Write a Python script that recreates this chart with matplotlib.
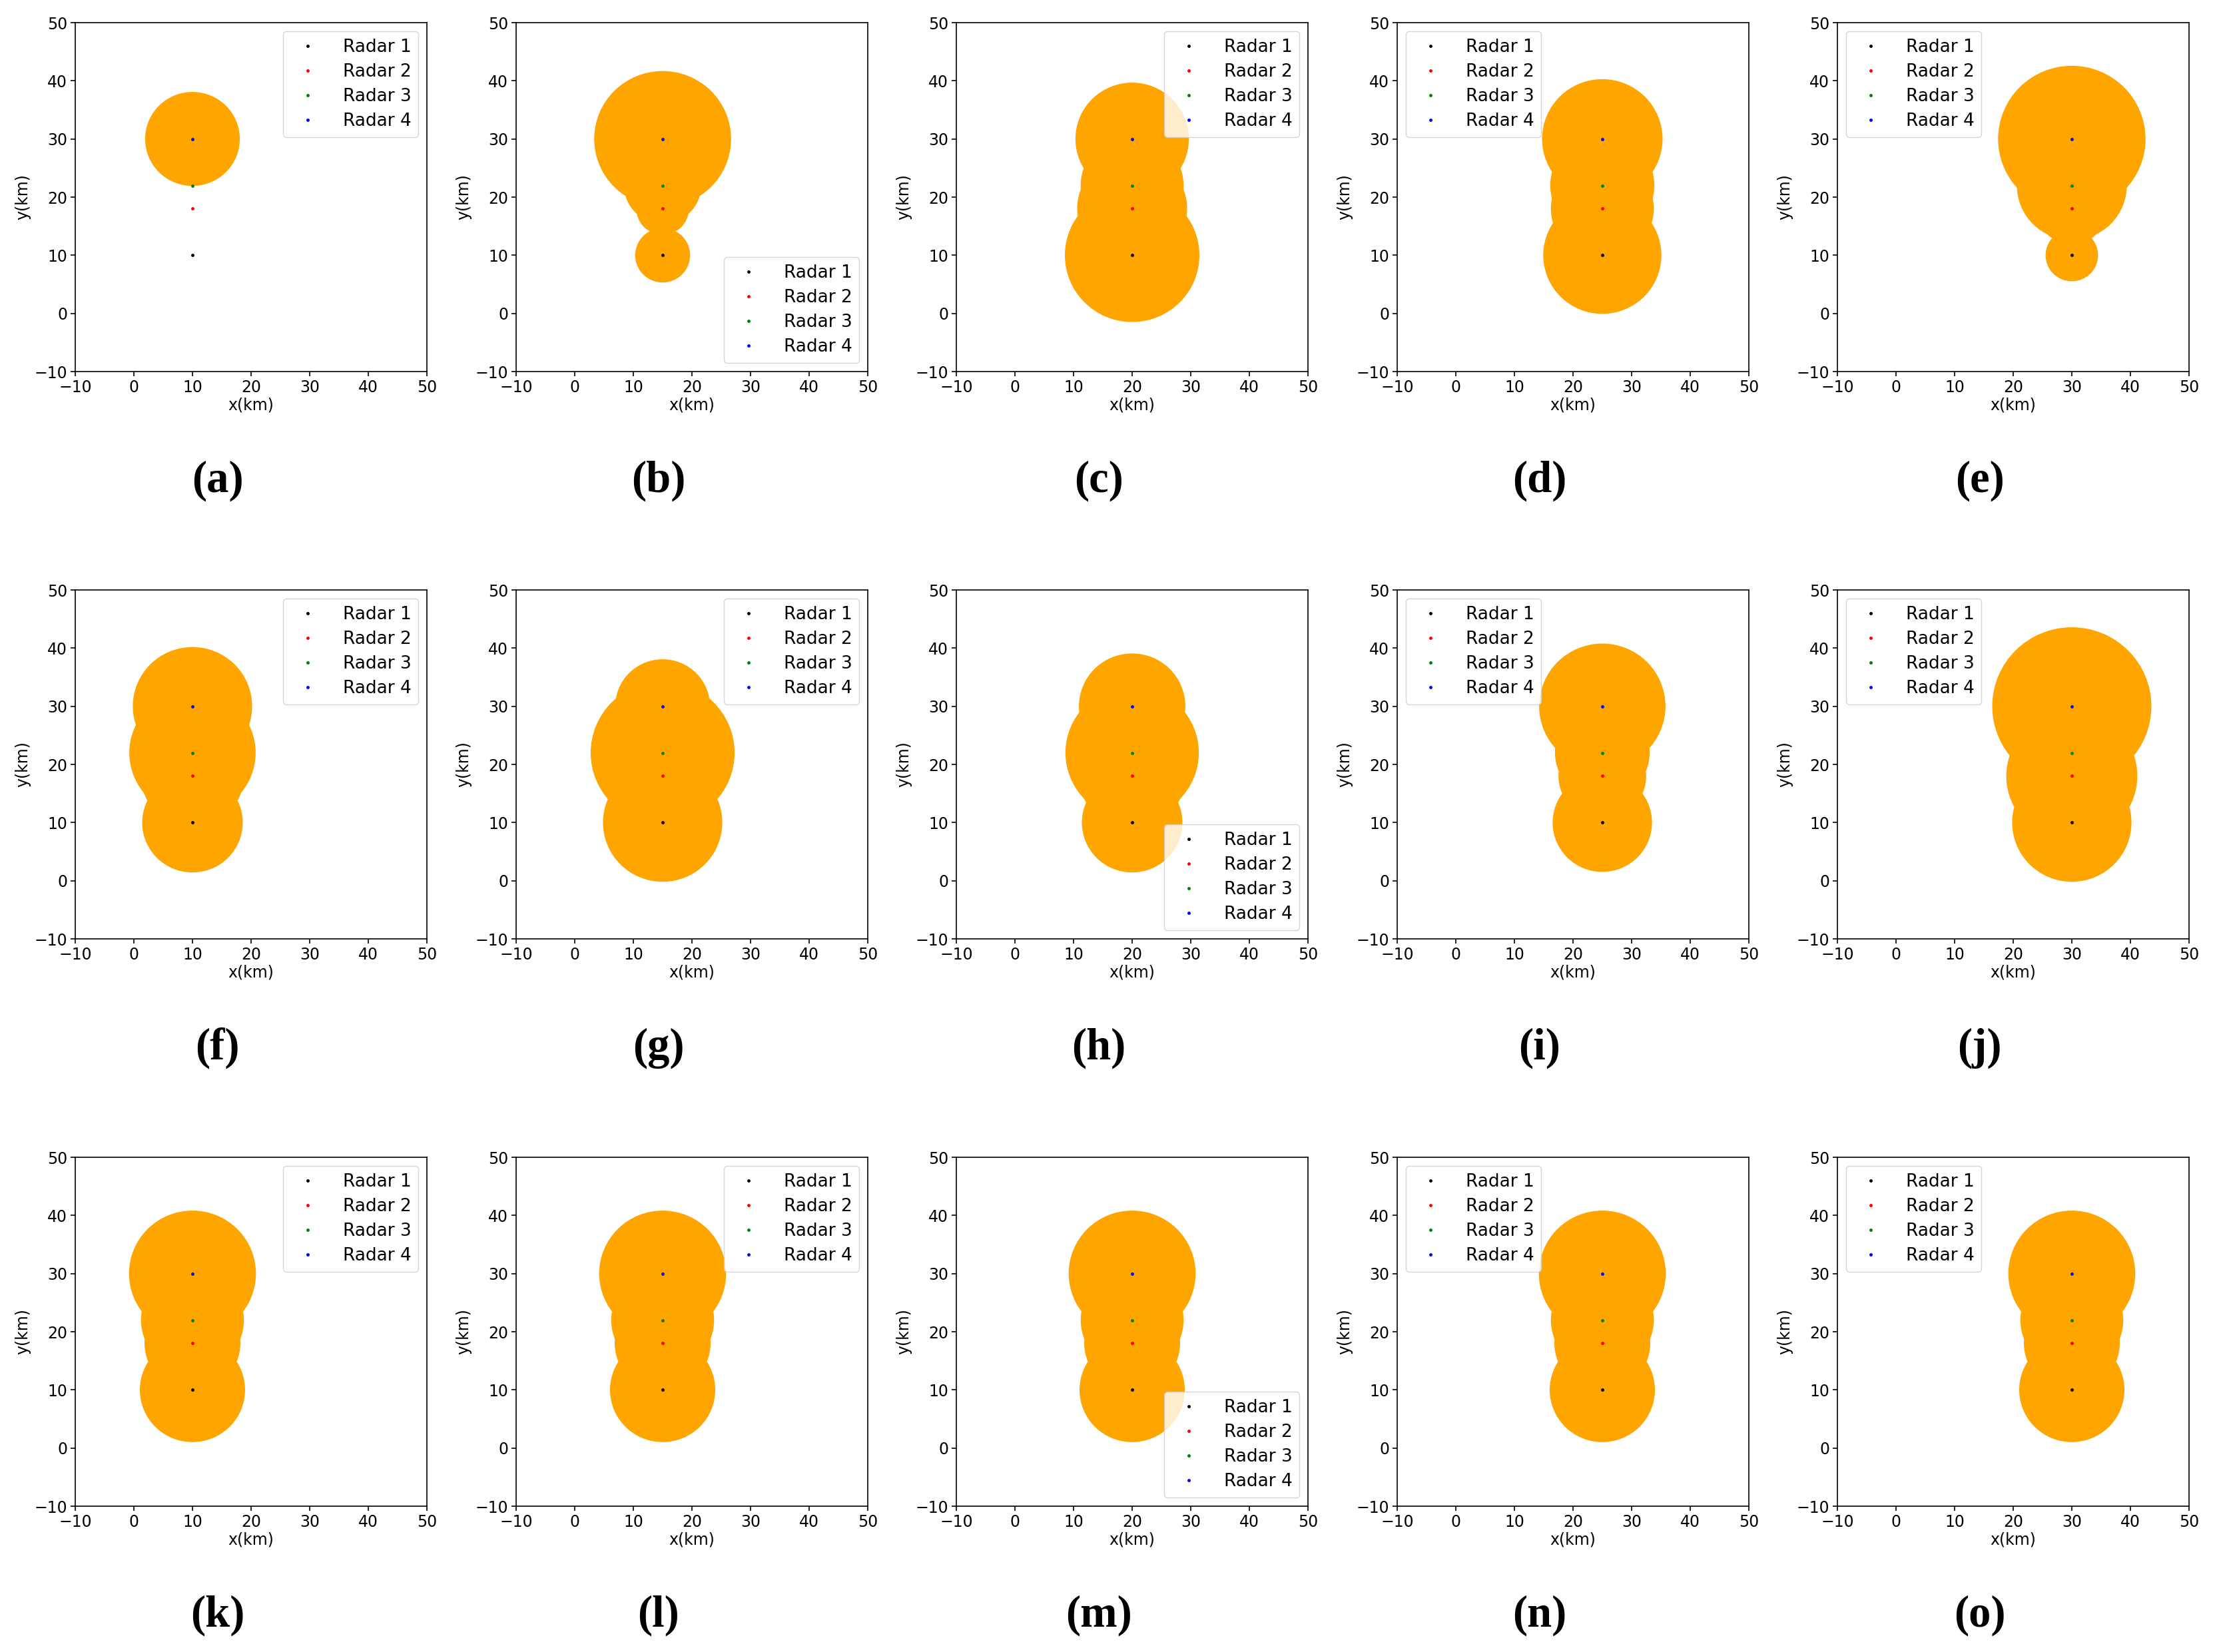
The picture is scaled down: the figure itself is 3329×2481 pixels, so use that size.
import matplotlib
matplotlib.use('Agg')

import matplotlib.pyplot as plt

# radar positions: x depends on the column, y is the same for the four radars
COL_X = [10, 15, 20, 25, 30]
RADAR_Y = [10, 18, 22, 30]
RADAR_NAMES = ["Radar 1", "Radar 2", "Radar 3", "Radar 4"]
RADAR_COLORS = ["black", "red", "green", "blue"]

PANEL_LABELS = ["(a)", "(b)", "(c)", "(d)", "(e)",
                "(f)", "(g)", "(h)", "(i)", "(j)",
                "(k)", "(l)", "(m)", "(n)", "(o)"]

# coverage radius (km) of radar 1..4, one row per panel
RADII = [
    [0.0, 0.0, 0.0, 8.0],
    [4.6, 4.4, 6.5, 11.6],
    [11.4, 9.3, 8.7, 9.6],
    [10.0, 8.7, 8.8, 10.2],
    [4.4, 6.0, 9.3, 12.5],
    [8.5, 8.7, 10.7, 10.1],
    [10.1, 8.5, 12.2, 8.0],
    [8.5, 9.0, 11.3, 9.0],
    [8.4, 7.4, 8.0, 10.7],
    [10.1, 11.1, 9.0, 13.5],
    [8.9, 8.1, 8.7, 10.75],
    [8.9, 8.1, 8.7, 10.75],
    [8.9, 8.1, 8.7, 10.75],
    [8.9, 8.1, 8.7, 10.75],
    [8.9, 8.1, 8.7, 10.75],
]

LEGEND_LOC = ["upper right", "lower right", "upper right", "upper left", "upper left",
              "upper right", "upper right", "lower right", "upper left", "upper left",
              "upper right", "upper right", "lower right", "upper left", "upper left"]

TICKS = [-10, 0, 10, 20, 30, 40, 50]

W, H = 3329, 2481
DPI = 100
COL_LEFT = [113, 775, 1436, 2098, 2759]
ROW_TOP = [34, 886, 1738]
AX_W, AX_H = 528, 524

plt.rcParams['font.size'] = 17

fig = plt.figure(figsize=(W / DPI, H / DPI), dpi=DPI)

for i in range(15):
    row, col = divmod(i, 5)
    rect = [COL_LEFT[col] / W, 1 - (ROW_TOP[row] + AX_H) / H, AX_W / W, AX_H / H]
    ax = fig.add_axes(rect)
    cx = COL_X[col]

    for r, y in zip(RADII[i], RADAR_Y):
        if r > 0:
            ax.add_patch(plt.Circle((cx, y), r, color="orange", zorder=1))

    for y, name, c in zip(RADAR_Y, RADAR_NAMES, RADAR_COLORS):
        ax.plot([cx], [y], '.', color=c, markersize=5, label=name, zorder=3)

    ax.set_xlim(-10, 50)
    ax.set_ylim(-10, 50)
    ax.set_xticks(TICKS)
    ax.set_yticks(TICKS)
    ax.set_xlabel("x(km)", labelpad=2)
    ax.set_ylabel("y(km)")
    for s in ax.spines.values():
        s.set_linewidth(1.2)
    ax.tick_params(width=1.2, length=5)
    ax.legend(loc=LEGEND_LOC[i], fontsize=19, labelspacing=0.42,
              handletextpad=1.0, borderpad=0.4)

    ax.text(0.405, -0.313, PANEL_LABELS[i], transform=ax.transAxes,
            ha="center", va="center", fontsize=48, fontweight="bold",
            family="Liberation Serif")

fig.savefig("out.png", dpi=DPI)
